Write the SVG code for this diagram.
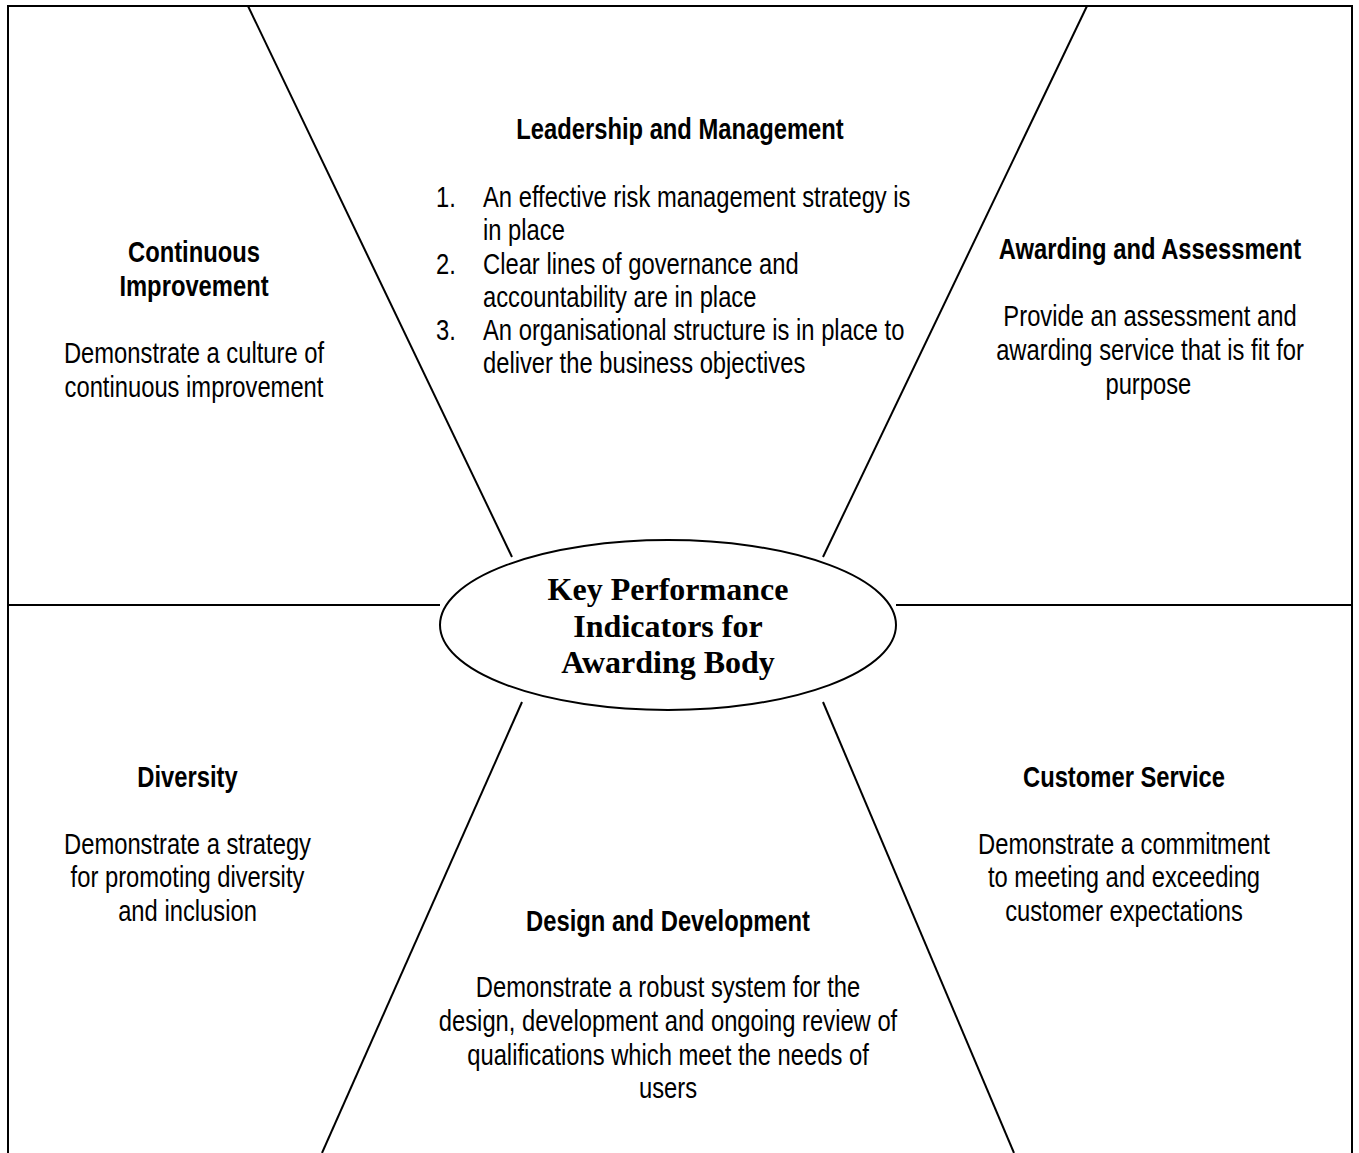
<svg xmlns="http://www.w3.org/2000/svg" width="1359" height="1153" viewBox="0 0 1359 1153">
<style>
.ln{stroke:#000;stroke-width:2;fill:none}
.h{font-family:"Liberation Sans","Arial",sans-serif;font-size:29px;font-weight:bold;fill:#000;text-anchor:middle}
.b{font-family:"Liberation Sans","Arial",sans-serif;font-size:29px;fill:#000;text-anchor:middle}
.l{font-family:"Liberation Sans","Arial",sans-serif;font-size:29px;fill:#000}
.c{font-family:"Liberation Serif","Times New Roman",serif;font-size:32px;font-weight:bold;fill:#000;text-anchor:middle}
</style>
<rect width="1359" height="1153" fill="#fff"/>
<g id="connectors">
<path class="ln" d="M8,1153 V6 H1352 V1153"/>
<line class="ln" x1="248" y1="6" x2="512" y2="557"/>
<line class="ln" x1="1087" y1="6" x2="823" y2="557"/>
<line class="ln" x1="8" y1="605" x2="440" y2="605"/>
<line class="ln" x1="896" y1="605" x2="1352" y2="605"/>
<line class="ln" x1="522" y1="702" x2="322" y2="1153"/>
<line class="ln" x1="823" y1="702" x2="1014" y2="1153"/>
</g>
<g id="center">
<ellipse class="ln" cx="668" cy="625" rx="228" ry="85"/>
<text class="c" x="668" y="600">Key Performance</text>
<text class="c" x="668" y="636.5">Indicators for</text>
<text class="c" x="668" y="673">Awarding Body</text>
</g>
<g id="leadership">
<g transform="matrix(0.82 0 0 1 680 0)">
<text class="h" x="0" y="139">Leadership and Management</text>
</g>
<g transform="matrix(0.82 0 0 1 483 0)">
<text class="l" x="-57.3" y="207">1.</text>
<text class="l" x="0" y="207">An effective risk management strategy is</text>
<text class="l" x="0" y="240.5">in place</text>
<text class="l" x="-57.3" y="274">2.</text>
<text class="l" x="0" y="274">Clear lines of governance and</text>
<text class="l" x="0" y="307">accountability are in place</text>
<text class="l" x="-57.3" y="340">3.</text>
<text class="l" x="0" y="340">An organisational structure is in place to</text>
<text class="l" x="0" y="373.5">deliver the business objectives</text>
</g>
</g>
<g id="continuous" transform="matrix(0.82 0 0 1 194 0)">
<text class="h" x="0" y="262">Continuous</text>
<text class="h" x="0" y="296">Improvement</text>
<text class="b" x="0" y="363">Demonstrate a culture of</text>
<text class="b" x="0" y="397">continuous improvement</text>
</g>
<g id="awarding" transform="matrix(0.82 0 0 1 1150 0)">
<text class="h" x="0" y="259">Awarding and Assessment</text>
<text class="b" x="0" y="326">Provide an assessment and</text>
<text class="b" x="0" y="360">awarding service that is fit for</text>
<text class="b" x="-2" y="394">purpose</text>
</g>
<g id="diversity" transform="matrix(0.82 0 0 1 187.5 0)">
<text class="h" x="0" y="787">Diversity</text>
<text class="b" x="0" y="854">Demonstrate a strategy</text>
<text class="b" x="0" y="887.5">for promoting diversity</text>
<text class="b" x="0" y="921">and inclusion</text>
</g>
<g id="customer" transform="matrix(0.82 0 0 1 1124 0)">
<text class="h" x="0" y="787">Customer Service</text>
<text class="b" x="0" y="854">Demonstrate a commitment</text>
<text class="b" x="0" y="887.5">to meeting and exceeding</text>
<text class="b" x="0" y="921">customer expectations</text>
</g>
<g id="design" transform="matrix(0.82 0 0 1 668 0)">
<text class="h" x="0" y="931">Design and Development</text>
<text class="b" x="0" y="997.5">Demonstrate a robust system for the</text>
<text class="b" x="0" y="1031.5">design, development and ongoing review of</text>
<text class="b" x="0" y="1065">qualifications which meet the needs of</text>
<text class="b" x="0" y="1098.5">users</text>
</g>
</svg>
